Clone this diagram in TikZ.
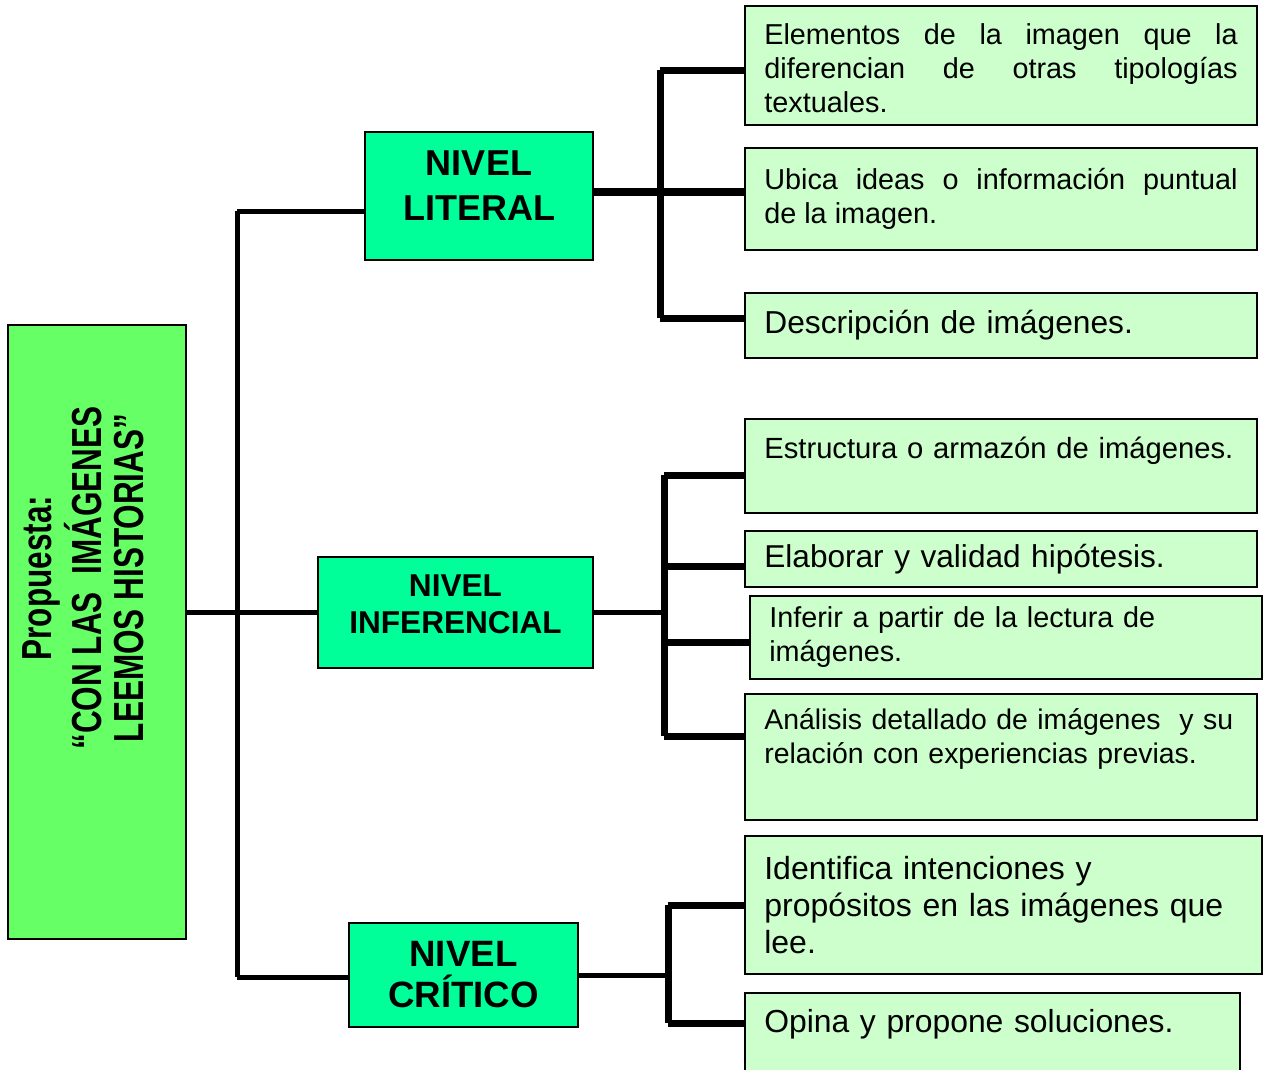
\documentclass[tikz,border=0pt]{standalone}
\usepackage{fontspec}
\setmainfont{Liberation Sans}
\usepackage{graphicx}
\hyphenpenalty=10000
\exhyphenpenalty=10000
\definecolor{propgreen}{HTML}{66FF66}
\definecolor{levelgreen}{HTML}{00FF99}
\definecolor{leafgreen}{HTML}{CCFFCC}
\tikzstyle{link} = [line width=3.75pt]
\tikzstyle{fork} = [line width=5.25pt]

\begin{document}
\begin{tikzpicture}
        [
            x=0.75pt, y=-0.75pt,
            prop/.style={rectangle,draw=black,line width=1.2pt,fill=propgreen,minimum width=133.5pt,minimum height=460.5pt},
            level/.style={rectangle,draw=black,line width=1.2pt,fill=levelgreen,align=center,inner sep=0pt},
            leaf/.style={rectangle,draw=black,line width=1.2pt,fill=leafgreen,text width=355pt,inner xsep=14.5pt,inner ysep=0pt,align=left,font=\fontsize{21.6}{25.5}\selectfont},
        ]

    \useasboundingbox (0,0) rectangle (1263,1070);

    % proposal
    \node[prop] (prop) at (97,632) {};
    \node[rotate=90,font=\fontsize{31.5}{31.5}\selectfont\bfseries] (proptitle) at (89,578)
        {\scalebox{0.75}[1]{\begin{tabular}{@{}c@{}}Propuesta:\\“CON LAS\ \ IMÁGENES\\LEEMOS HISTORIAS”\end{tabular}}};

    % levels
    \node[level,minimum width=171pt,minimum height=96pt,font=\fontsize{27}{33.75}\selectfont\bfseries] (lit) at (479,196) {NIVEL\\LITERAL\rule[-15pt]{0pt}{15pt}};
    \node[level,minimum width=206.25pt,minimum height=83.25pt,font=\fontsize{23.7}{27.75}\selectfont\bfseries] (inf) at (455.5,612.5) {NIVEL\\INFERENCIAL\rule[-12.75pt]{0pt}{12.75pt}};
    \node[level,minimum width=171.75pt,minimum height=78pt,font=\fontsize{27.5}{30.75}\selectfont\bfseries] (crit) at (463.5,975) {NIVEL\\CRÍTICO};

    % literal
    \node[leaf,align=justify,minimum height=89.25pt] (e1) at (1001,65.5) {\rule{0pt}{20pt}Elementos de la imagen que la\linebreak diferencian de otras tipologías\linebreak textuales.};
    \node[leaf,align=justify,minimum height=76.5pt] (e2) at (1001,199) {Ubica ideas o información puntual\linebreak de la imagen.};
    \node[leaf,minimum height=48.75pt,font=\fontsize{23.8}{27.5}\selectfont] (e3) at (1001,325.5) {Descripción de imágenes.};

    % inferencial
    \node[leaf,minimum height=70.5pt,font=\fontsize{21.9}{25.5}\selectfont] (e4) at (1001,466) {Estructura o armazón de imágenes.\rule[-28pt]{0pt}{28pt}};
    \node[leaf,minimum height=42pt,font=\fontsize{23.7}{27.5}\selectfont] (e5) at (1001,559) {Elaborar y validad hipótesis.};
    \node[leaf,minimum height=62.25pt] (e6) at (1006,637.5) {Inferir a partir de la lectura de\\imágenes.};
    \node[leaf,minimum height=94.5pt,font=\fontsize{21.3}{25.5}\selectfont] (e7) at (1001,757) {Análisis detallado de imágenes\ \ y su\\relación con experiencias previas.\rule[-31.5pt]{0pt}{31.5pt}};

    % critico
    \node[leaf,text width=358.75pt,minimum height=103.5pt,font=\fontsize{24}{27.75}\selectfont] (e8) at (1003.5,905) {Identifica intenciones y\\propósitos en las imágenes que\\lee.};
    \node[leaf,text width=342.25pt,minimum height=65.25pt,font=\fontsize{23.9}{27.75}\selectfont] (e9) at (992.5,1036.5) {Opina y propone soluciones.\rule[-23pt]{0pt}{23pt}};

    % trunk
    \coordinate (trunktop) at (237,211);
    \coordinate (trunkbot) at (237,977);
    \draw[link] (trunktop) -- (trunkbot);
    \draw[link] (trunktop) -- (trunktop -| lit.west);
    \draw[link] (prop.east |- inf.west) -- (inf.west);
    \draw[link] (trunkbot) -- (trunkbot -| crit.west);

    % literal fork
    \coordinate (litbus) at (660,0);
    \foreach \n/\s in {e1/-3.4,e2/5.25,e3/5.6}{
        \coordinate (\n-in) at ([yshift=\s pt]\n.west);
        \draw[fork] (\n-in) -- (\n-in -| litbus);
    }
    \draw[fork] (lit.east |- e2-in) -- (e2-in -| litbus);
    \draw[fork] (e1-in -| litbus) -- (e3-in -| litbus);

    % inferencial fork
    \coordinate (infbus) at (664,0);
    \draw[link] (inf.east) -- (inf.east -| infbus);
    \foreach \n/\s in {e4/-6.75,e5/-5.25,e6/-4,e7/15.75}{
        \coordinate (\n-in) at ([yshift=\s pt]\n.west);
        \draw[fork] (\n-in) -- (\n-in -| infbus);
    }
    \draw[fork] (e4-in -| infbus) -- (e7-in -| infbus);

    % critico fork
    \coordinate (critbus) at (668,0);
    \draw[link] (crit.east) -- (crit.east -| critbus);
    \foreach \n/\s in {e8/0,e9/10.1}{
        \coordinate (\n-in) at ([yshift=\s pt]\n.west);
        \draw[fork] (\n-in) -- (\n-in -| critbus);
    }
    \draw[fork] (e8-in -| critbus) -- (e9-in -| critbus);
\end{tikzpicture}
\end{document}
